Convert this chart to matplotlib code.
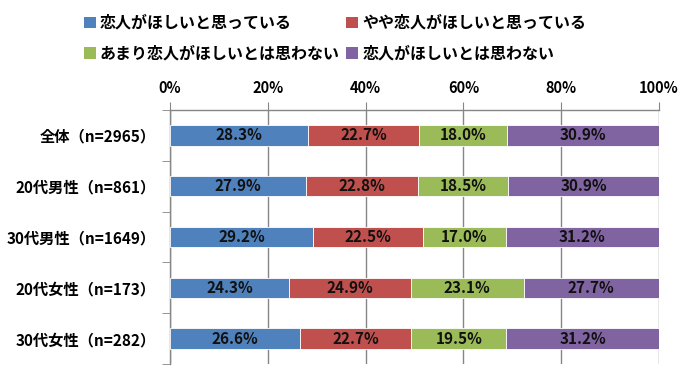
import numpy as np
import matplotlib
matplotlib.use("Agg")
import matplotlib.pyplot as plt
from matplotlib.patches import Patch

plt.rcParams['font.family'] = ['Noto Sans CJK JP', 'DejaVu Sans']

# data
groups = ["全体（n=2965）", "20代男性（n=861）", "30代男性（n=1649）",
          "20代女性（n=173）", "30代女性（n=282）"]
series_names = ["恋人がほしいと思っている", "やや恋人がほしいと思っている",
                "あまり恋人がほしいとは思わない", "恋人がほしいとは思わない"]
want = [28.3, 27.9, 29.2, 24.3, 26.6]
want_little = [22.7, 22.8, 22.5, 24.9, 22.7]
not_much = [18.0, 18.5, 17.0, 23.1, 19.5]
not_want = [30.9, 30.9, 31.2, 27.7, 31.2]
xticks = [0, 20, 40, 60, 80, 100]

colors = ["#4F81BD", "#C0504D", "#9BBB59", "#8064A2"]
grid_col = "#868686"

fig = plt.figure(figsize=(6.84, 3.79), dpi=100)
ax = fig.add_axes([170/684, 1 - 364/379, (659 - 170)/684, (364 - 110)/379])

y = np.arange(len(groups))
left = np.zeros(len(groups))
for vals, c in zip([want, want_little, not_much, not_want], colors):
    bars = ax.barh(y, vals, left=left, height=0.4, color=c,
                   edgecolor="white", linewidth=0.6, zorder=3)
    ax.bar_label(bars, labels=[f"{v:.1f}%" for v in vals], label_type="center",
                 fontsize=11, fontweight="bold", color="#111111")
    left += np.array(vals)

ax.set_xlim(0, 100)
ax.set_ylim(len(groups) - 0.5, -0.5)

ax.xaxis.tick_top()
ax.set_xticks(xticks)
ax.set_xticklabels([f"{t}%" for t in xticks], fontsize=10.5, fontweight="bold")
ax.tick_params(axis="x", direction="out", length=6, color=grid_col, pad=4)
ax.grid(axis="x", color=grid_col, linewidth=1, zorder=0)

ax.set_yticks(y)
ax.set_yticklabels(groups, fontsize=11, fontweight="bold")
ax.set_yticks(np.arange(-0.5, len(groups)), minor=True)
ax.tick_params(axis="y", which="major", length=0, pad=10)
ax.tick_params(axis="y", which="minor", direction="out", length=6, color=grid_col)

for s in ["right", "bottom"]:
    ax.spines[s].set_visible(False)
for s in ["top", "left"]:
    ax.spines[s].set_color(grid_col)
    ax.spines[s].set_linewidth(1)

# legend fills row by row in the reference
order = [0, 2, 1, 3]
handles = [Patch(facecolor=colors[i], edgecolor="none") for i in order]
fig.legend(handles, [series_names[i] for i in order], ncol=2, loc="upper left",
           bbox_to_anchor=(84/684, 1 - 15/379), frameon=False,
           prop={"size": 11.5, "weight": "bold"},
           handlelength=0.75, handleheight=0.75, handletextpad=0.25,
           columnspacing=0.4, labelspacing=0.9, borderpad=0, borderaxespad=0)

fig.savefig("out.png", dpi=100)
